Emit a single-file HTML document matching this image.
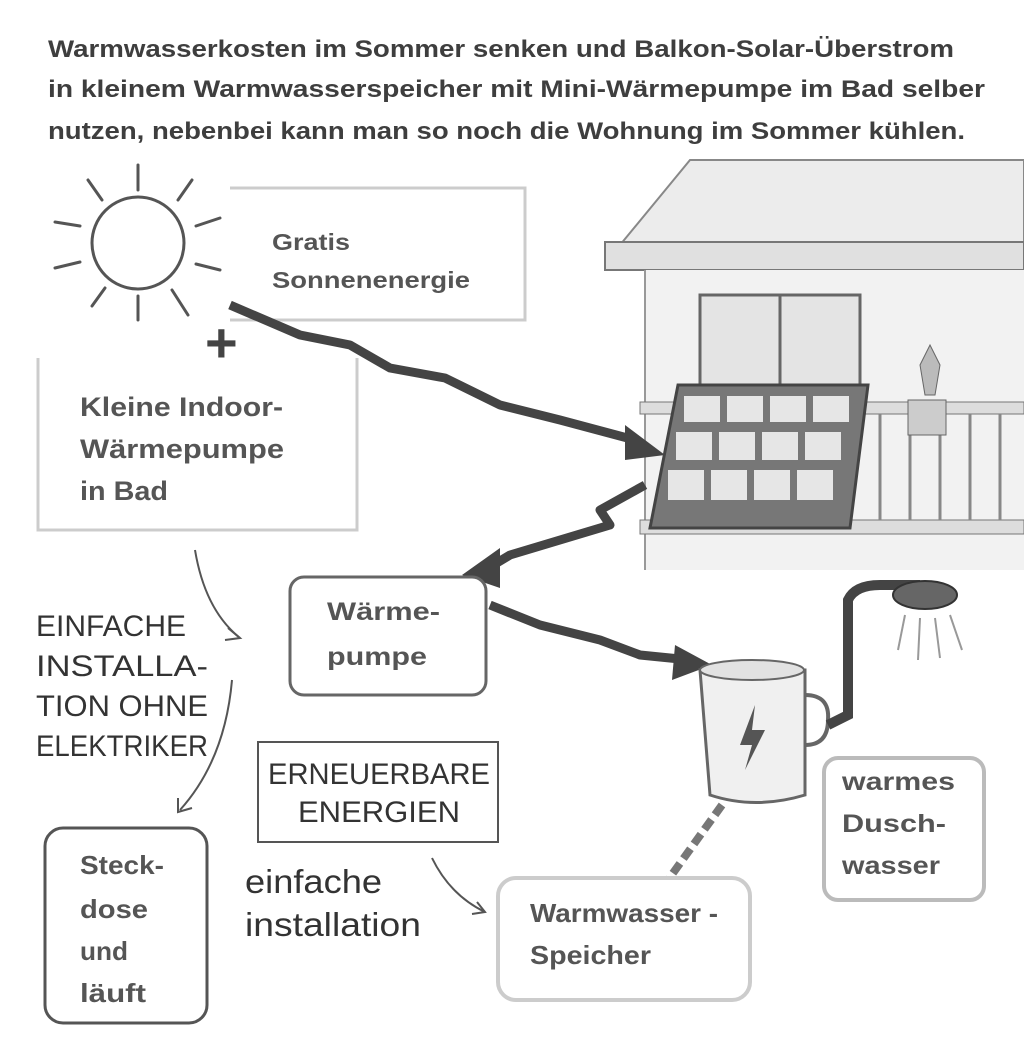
<!DOCTYPE html>
<html><head><meta charset="utf-8"><style>
html,body{margin:0;padding:0;background:#fff;}
svg{display:block;}
.h{font-family:"Liberation Sans",sans-serif;font-weight:bold;fill:#3e3e3e;}
.b{font-family:"Liberation Sans",sans-serif;font-weight:bold;fill:#555;}
.t{font-family:"Liberation Sans",sans-serif;fill:#333;}
</style></head><body>
<svg width="1024" height="1051" viewBox="0 0 1024 1051" xmlns="http://www.w3.org/2000/svg">
<rect width="1024" height="1051" fill="#fff"/>
<!-- header -->
<text class="h" x="48" y="57" font-size="24" textLength="906" lengthAdjust="spacingAndGlyphs">Warmwasserkosten im Sommer senken und Balkon-Solar-Überstrom</text>
<text class="h" x="48" y="97" font-size="24" textLength="937" lengthAdjust="spacingAndGlyphs">in kleinem Warmwasserspeicher mit Mini-Wärmepumpe im Bad selber</text>
<text class="h" x="48" y="139" font-size="24" textLength="917" lengthAdjust="spacingAndGlyphs">nutzen, nebenbei kann man so noch die Wohnung im Sommer kühlen.</text>

<!-- house -->
<g>
<polygon points="620,245 690,160 1024,160 1024,245" fill="#ececec" stroke="#888" stroke-width="2"/>
<rect x="605" y="242" width="419" height="28" fill="#e0e0e0" stroke="#777" stroke-width="2"/>
<rect x="645" y="270" width="379" height="300" fill="#f2f2f2"/>
<line x1="645" y1="270" x2="645" y2="570" stroke="#999" stroke-width="2"/>
<rect x="700" y="295" width="160" height="105" fill="#e4e4e4" stroke="#666" stroke-width="3"/>
<line x1="780" y1="295" x2="780" y2="400" stroke="#666" stroke-width="3"/>
<rect x="640" y="402" width="384" height="12" fill="#ddd" stroke="#777"/>
<rect x="640" y="520" width="384" height="14" fill="#ddd" stroke="#777"/>
<g stroke="#888" stroke-width="3">
<line x1="880" y1="414" x2="880" y2="520"/><line x1="910" y1="414" x2="910" y2="520"/>
<line x1="940" y1="414" x2="940" y2="520"/><line x1="970" y1="414" x2="970" y2="520"/><line x1="1000" y1="414" x2="1000" y2="520"/>
</g>
<path d="M925,395 l-5,-30 l10,-20 l10,20 l-5,30 z" fill="#bbb" stroke="#666"/>
<rect x="908" y="400" width="38" height="35" fill="#ccc" stroke="#666"/>
<!-- panel -->
<polygon points="678,385 868,385 850,528 650,528" fill="#777" stroke="#444" stroke-width="3"/>
<g fill="#e6e6e6">
<rect x="684" y="396" width="36" height="26"/><rect x="727" y="396" width="36" height="26"/><rect x="770" y="396" width="36" height="26"/><rect x="813" y="396" width="36" height="26"/>
<rect x="676" y="432" width="36" height="28"/><rect x="719" y="432" width="36" height="28"/><rect x="762" y="432" width="36" height="28"/><rect x="805" y="432" width="36" height="28"/>
<rect x="668" y="470" width="36" height="30"/><rect x="711" y="470" width="36" height="30"/><rect x="754" y="470" width="36" height="30"/><rect x="797" y="470" width="36" height="30"/>
</g>
</g>

<!-- sun -->
<circle cx="138" cy="243" r="46" fill="#fff" stroke="#555" stroke-width="3"/>
<g stroke="#555" stroke-width="3" stroke-linecap="round">
<line x1="138" y1="165" x2="138" y2="190"/><line x1="138" y1="296" x2="138" y2="320"/>
<line x1="55" y1="222" x2="80" y2="226"/><line x1="55" y1="268" x2="80" y2="262"/>
<line x1="196" y1="226" x2="220" y2="218"/><line x1="196" y1="264" x2="220" y2="270"/>
<line x1="88" y1="180" x2="102" y2="200"/><line x1="178" y1="200" x2="192" y2="180"/>
<line x1="92" y1="306" x2="105" y2="288"/><line x1="172" y1="290" x2="188" y2="315"/>
</g>
<!-- gratis box -->
<path d="M230,188 L525,188 L525,320 L230,320" fill="none" stroke="#ccc" stroke-width="3"/>
<text class="b" x="272" y="250" font-size="23" textLength="78" lengthAdjust="spacingAndGlyphs">Gratis</text>
<text class="b" x="272" y="288" font-size="23" textLength="198" lengthAdjust="spacingAndGlyphs">Sonnenenergie</text>
<text x="205" y="362" font-family="Liberation Sans,sans-serif" font-weight="bold" font-size="56" fill="#444">+</text>
<!-- kleine box -->
<path d="M38,358 L38,530 L357,530 L357,358" fill="none" stroke="#ccc" stroke-width="3"/>
<text class="b" x="80" y="416" font-size="27" textLength="203" lengthAdjust="spacingAndGlyphs">Kleine Indoor-</text>
<text class="b" x="80" y="458" font-size="27" textLength="204" lengthAdjust="spacingAndGlyphs">Wärmepumpe</text>
<text class="b" x="80" y="500" font-size="27" textLength="88" lengthAdjust="spacingAndGlyphs">in Bad</text>

<!-- lightning arrows -->
<g fill="none" stroke="#444" stroke-width="9" stroke-linejoin="round">
<path d="M230,305 L300,335 L350,345 L390,368 L445,378 L500,405 L560,420 L635,440"/>
<path d="M645,485 L600,510 L610,525 L560,540 L510,555 L485,570"/>
<path d="M490,605 L540,625 L600,640 L640,655 L690,660"/>
</g>
<polygon points="625,425 665,455 625,460" fill="#444"/>
<polygon points="462,575 500,548 500,588" fill="#444"/>
<polygon points="675,645 712,665 672,680" fill="#444"/>

<!-- Wärmepumpe -->
<rect x="290" y="577" width="196" height="118" rx="14" fill="#fff" stroke="#666" stroke-width="3"/>
<text class="b" x="327" y="620" font-size="25" textLength="113" lengthAdjust="spacingAndGlyphs">Wärme-</text>
<text class="b" x="327" y="665" font-size="25" textLength="100" lengthAdjust="spacingAndGlyphs">pumpe</text>

<!-- curved arrows -->
<g fill="none" stroke="#555" stroke-width="2">
<path d="M195,550 Q205,610 240,638"/><path d="M228,628 l12,10 l-15,2"/>
<path d="M232,680 Q225,760 180,810"/><path d="M178,798 l0,14 l14,-4"/>
<path d="M432,858 Q450,895 485,912"/><path d="M472,914 l13,-2 l-8,-10"/>
</g>
<g class="t" font-size="30" fill="#333">
<text x="36" y="636" textLength="150" lengthAdjust="spacingAndGlyphs">EINFACHE</text>
<text x="36" y="676" textLength="172" lengthAdjust="spacingAndGlyphs">INSTALLA-</text>
<text x="36" y="716" textLength="172" lengthAdjust="spacingAndGlyphs">TION OHNE</text>
<text x="36" y="756" textLength="172" lengthAdjust="spacingAndGlyphs">ELEKTRIKER</text>
</g>
<rect x="258" y="742" width="240" height="100" fill="none" stroke="#555" stroke-width="2"/>
<text class="t" x="268" y="784" font-size="30" textLength="222" lengthAdjust="spacingAndGlyphs">ERNEUERBARE</text>
<text class="t" x="298" y="822" font-size="30" textLength="162" lengthAdjust="spacingAndGlyphs">ENERGIEN</text>
<text class="t" x="245" y="893" font-size="33" textLength="137" lengthAdjust="spacingAndGlyphs">einfache</text>
<text class="t" x="245" y="936" font-size="33" textLength="176" lengthAdjust="spacingAndGlyphs">installation</text>

<!-- Steckdose -->
<rect x="45" y="828" width="162" height="195" rx="18" fill="#fff" stroke="#555" stroke-width="3"/>
<text class="b" x="80" y="874" font-size="26" textLength="84" lengthAdjust="spacingAndGlyphs">Steck-</text>
<text class="b" x="80" y="918" font-size="26" textLength="68" lengthAdjust="spacingAndGlyphs">dose</text>
<text class="b" x="80" y="960" font-size="26" textLength="48" lengthAdjust="spacingAndGlyphs">und</text>
<text class="b" x="80" y="1002" font-size="26" textLength="66" lengthAdjust="spacingAndGlyphs">läuft</text>

<!-- mug -->
<path d="M700,670 L805,670 L805,795 Q755,810 710,795 Z" fill="#f0f0f0" stroke="#666" stroke-width="3"/>
<ellipse cx="752" cy="670" rx="52" ry="10" fill="#e2e2e2" stroke="#666" stroke-width="2"/>
<path d="M805,695 Q830,695 828,720 Q828,745 805,745" fill="none" stroke="#666" stroke-width="4"/>
<path d="M755,705 L740,745 L752,745 L745,770 L765,730 L752,730 Z" fill="#555"/>
<path d="M828,725 L848,715 L848,600 Q855,585 880,585 L920,585" fill="none" stroke="#444" stroke-width="10"/>
<ellipse cx="925" cy="595" rx="32" ry="14" fill="#666" stroke="#333" stroke-width="2"/>
<g stroke="#999" stroke-width="2"><line x1="905" y1="615" x2="898" y2="650"/><line x1="920" y1="618" x2="918" y2="660"/><line x1="935" y1="618" x2="940" y2="658"/><line x1="950" y1="615" x2="962" y2="650"/></g>
<line x1="722" y1="805" x2="668" y2="880" stroke="#777" stroke-width="8" stroke-dasharray="12,6"/>

<!-- warmes -->
<rect x="824" y="758" width="160" height="142" rx="14" fill="#fff" stroke="#bbb" stroke-width="4"/>
<text class="b" x="842" y="790" font-size="25" textLength="113" lengthAdjust="spacingAndGlyphs">warmes</text>
<text class="b" x="842" y="832" font-size="25" textLength="104" lengthAdjust="spacingAndGlyphs">Dusch-</text>
<text class="b" x="842" y="874" font-size="25" textLength="98" lengthAdjust="spacingAndGlyphs">wasser</text>
<!-- speicher -->
<rect x="498" y="878" width="252" height="122" rx="18" fill="#fff" stroke="#ccc" stroke-width="4"/>
<text class="b" x="530" y="922" font-size="26" textLength="188" lengthAdjust="spacingAndGlyphs" fill="#444">Warmwasser -</text>
<text class="b" x="530" y="964" font-size="26" textLength="121" lengthAdjust="spacingAndGlyphs" fill="#444">Speicher</text>
</svg>
</body></html>
